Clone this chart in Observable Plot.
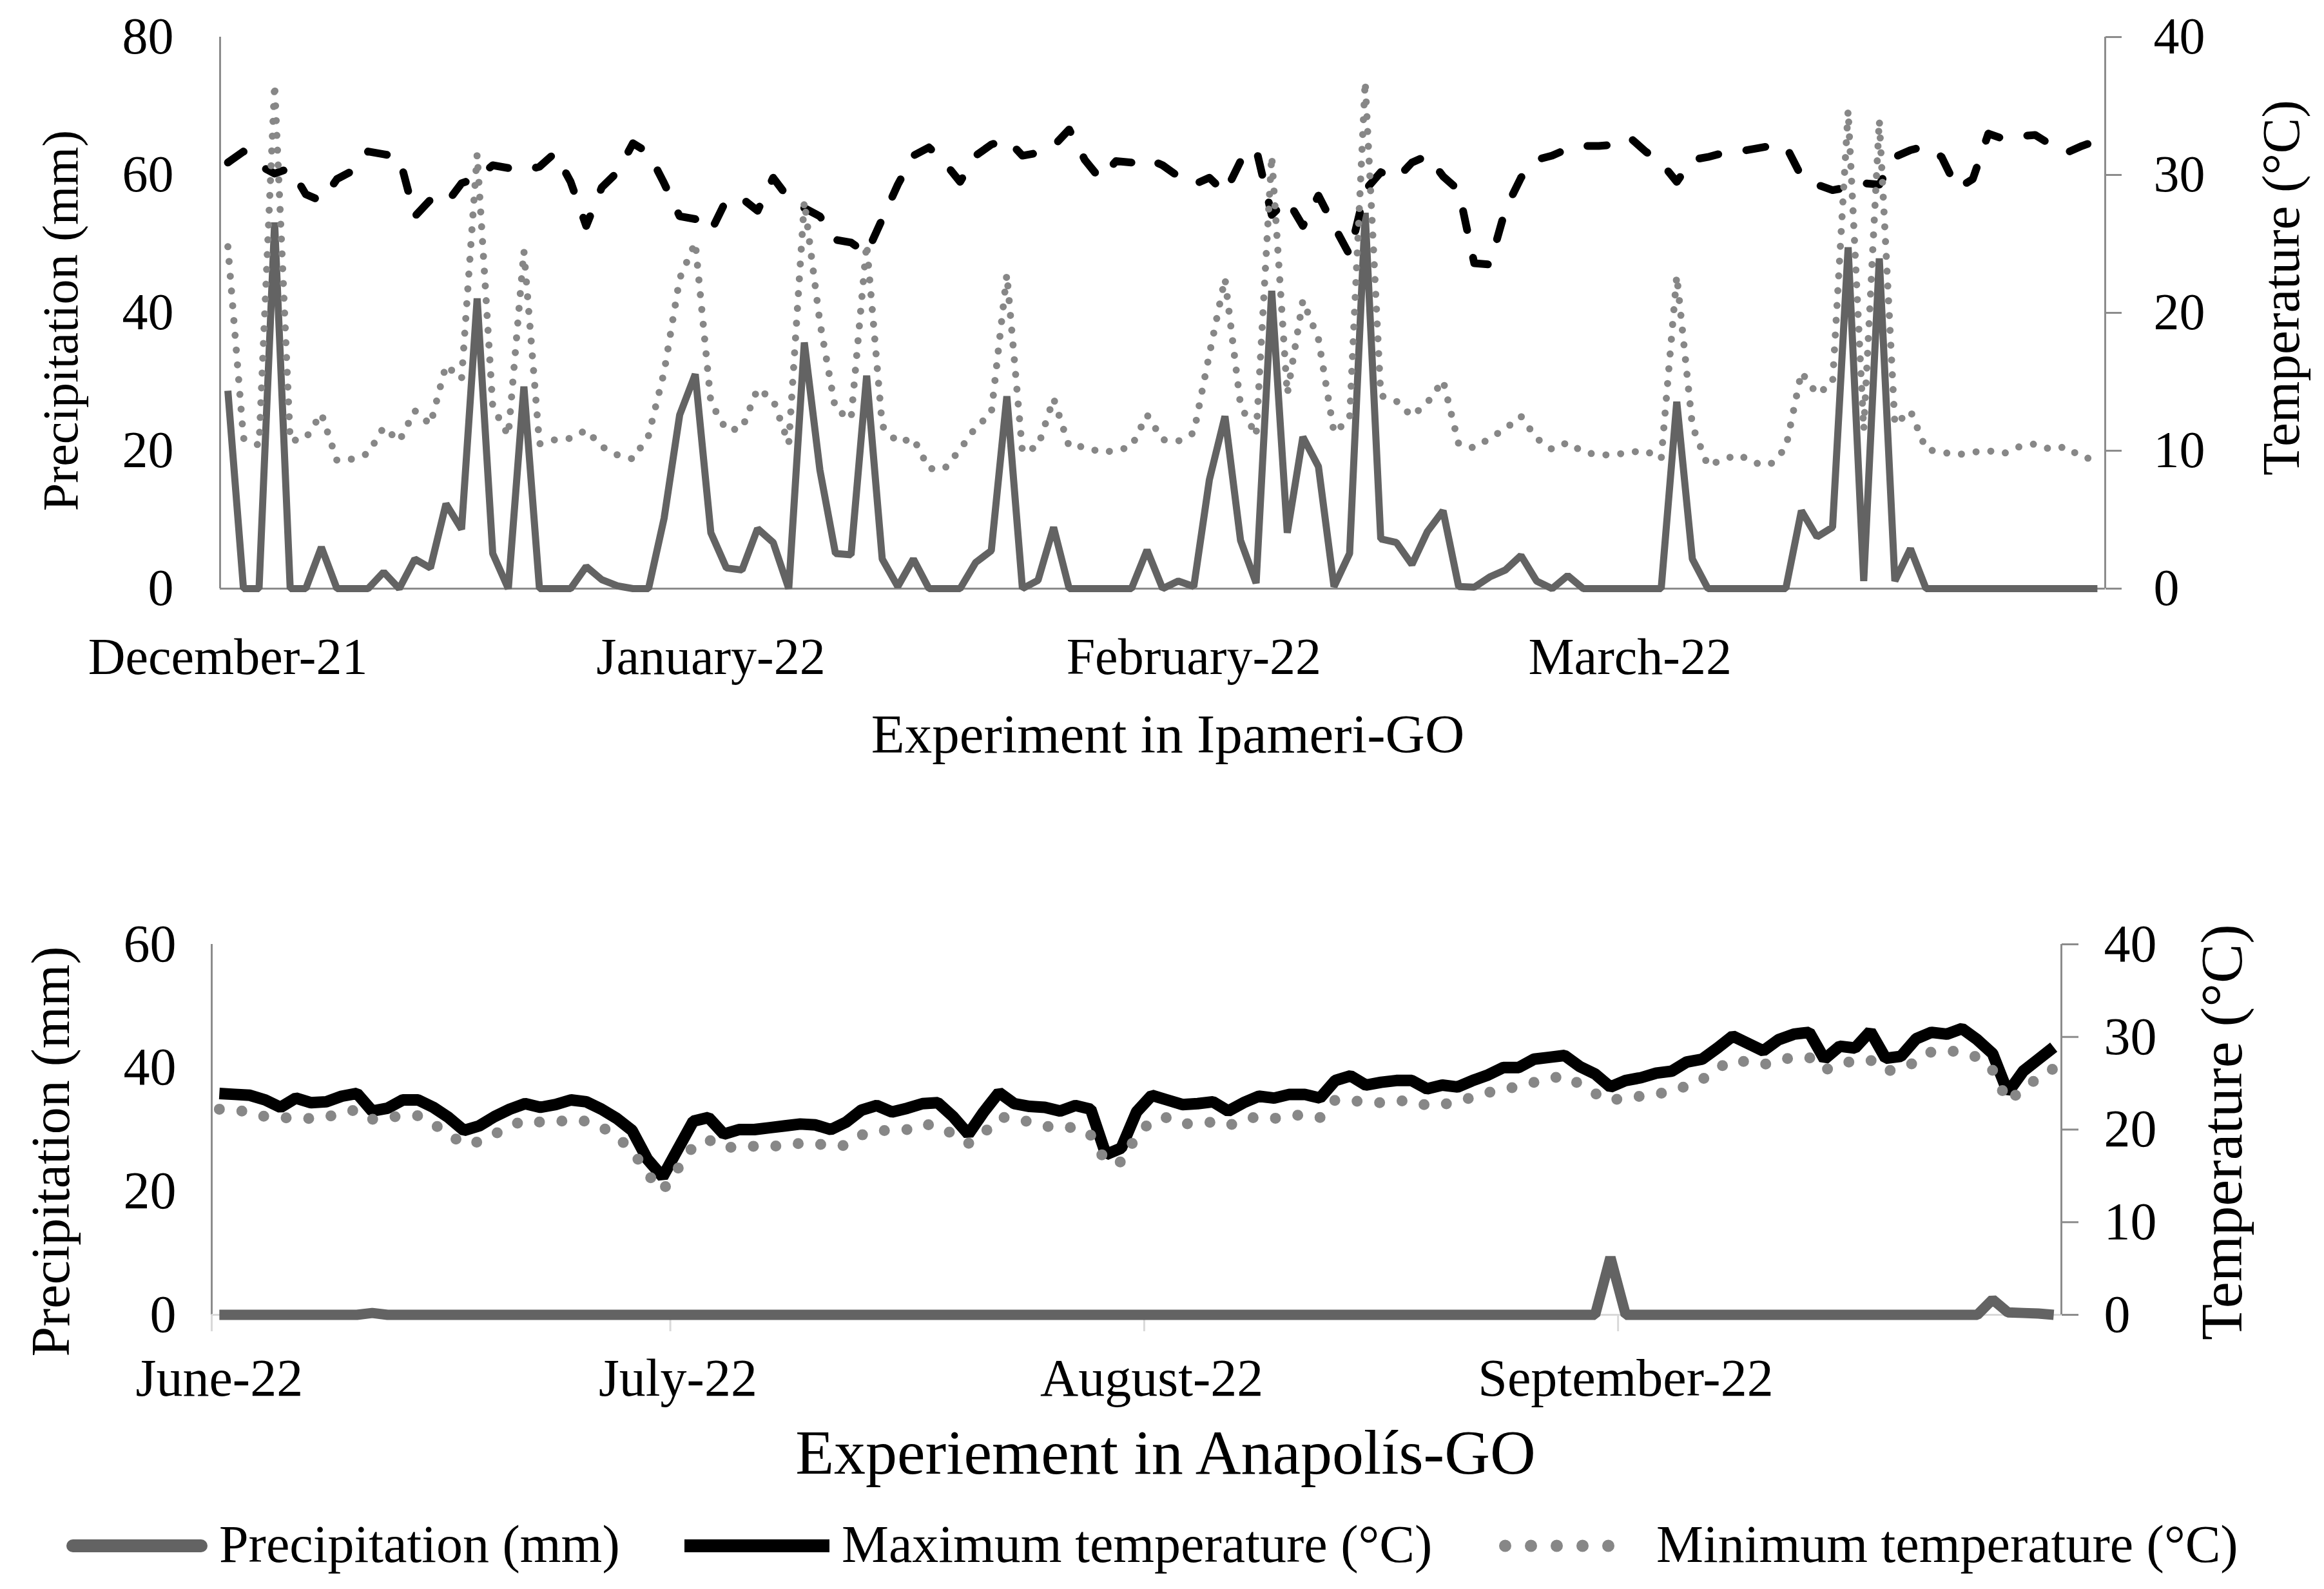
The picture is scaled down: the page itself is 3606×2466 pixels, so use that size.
<!DOCTYPE html>
<html>
<head>
<meta charset="utf-8">
<script src="https://cdn.jsdelivr.net/npm/d3@7"></script>
<script src="https://cdn.jsdelivr.net/npm/@observablehq/plot@0.6"></script>
<style>
html, body { margin: 0; padding: 0; background: #fff; overflow: hidden; }
#root { position: relative; width: 3606px; height: 2466px; font-family: "Liberation Serif", "Times New Roman", serif; color: #000; }
#root svg { position: absolute; left: 0; max-width: none; }
.leg { position: absolute; font-size: 82px; line-height: 1; white-space: nowrap; font-family: "Liberation Serif", serif; color: #000; }
</style>
</head>
<body>
<div id="root"></div>
<script>
// ---------- Data: Ipameri-GO, daily from 1 Dec 2021 to 31 Mar 2022 ----------
const topMonthLabels = ["December-21", "January-22", "February-22", "March-22"];
const topMonthIdx = [0, 31, 62, 90];
const topPrecip = [
  28.7, 0, 0, 53.1, 0, 0, 6.0, 0, 0, 0,
  2.4, 0, 4.3, 3.0, 12.3, 8.6, 42.1, 5.1, 0, 29.3,
  0, 0, 0, 3.2, 1.3, 0.4, 0, 0, 10.2, 25.2,
  31.1, 8.1, 3.0, 2.7, 8.7, 6.7, 0, 35.7, 17.2, 5.1,
  4.9, 30.9, 4.3, 0.3, 4.3, 0, 0, 0, 3.8, 5.5,
  27.9, 0, 1.2, 8.9, 0, 0, 0, 0, 0, 5.6,
  0, 1.1, 0.3, 15.8, 25.0, 7.0, 0.8, 43.2, 8.1, 22.0,
  17.7, 0.3, 5.1, 54.5, 7.2, 6.7, 3.5, 8.3, 11.3, 0.3,
  0.2, 1.7, 2.7, 4.8, 1.1, 0, 1.9, 0, 0, 0,
  0, 0, 0, 27.1, 4.3, 0, 0, 0, 0, 0,
  0, 11.3, 7.5, 8.9, 49.5, 1.1, 47.9, 1.1, 5.8, 0,
  0, 0, 0, 0, 0, 0, 0, 0, 0, 0,
  0
];
const topTmax = [
  30.9, 31.7, 30.7, 30.1, 30.5, 28.6, 28.1, 29.7, 30.3, 31.7,
  31.5, 31.3, 27.0, 28.2, 27.9, 29.4, 29.8, 30.7, 30.5, 30.3,
  30.6, 31.6, 29.5, 26.3, 29.1, 30.2, 32.3, 31.6, 29.4, 27.0,
  26.8, 25.9, 28.2, 28.3, 27.4, 29.8, 28.3, 27.6, 27.0, 25.3,
  25.1, 24.3, 26.8, 29.3, 31.4, 32.0, 30.9, 29.5, 31.4, 32.2,
  32.6, 31.4, 31.6, 32.1, 33.3, 31.1, 29.7, 31.0, 30.9, 31.2,
  30.7, 29.9, 29.3, 29.8, 28.7, 31.0, 31.9, 27.1, 28.2, 26.3,
  28.5, 26.3, 24.2, 28.9, 30.2, 29.7, 30.9, 31.4, 29.9, 28.9,
  23.6, 23.5, 27.5, 29.8, 31.1, 31.4, 31.9, 32.1, 32.1, 32.2,
  32.7, 31.7, 30.9, 29.5, 31.1, 31.3, 31.6, 31.7, 31.9, 32.1,
  32.1, 29.9, 29.3, 28.9, 29.1, 29.4, 29.3, 31.3, 31.8, 32.1,
  31.3, 29.0, 29.7, 33.0, 32.6, 32.8, 32.9, 32.2, 31.6, 32.1,
  32.5
];
const topTmin = [
  24.8, 10.9, 10.4, 36.6, 10.7, 10.9, 12.7, 9.3, 9.4, 9.8,
  11.7, 10.7, 12.9, 11.9, 16.2, 15.2, 31.5, 13.2, 11.1, 24.5,
  10.5, 10.8, 10.9, 11.5, 10.3, 9.7, 9.4, 11.1, 15.7, 22.5,
  25.1, 13.5, 11.5, 11.6, 14.5, 13.7, 10.5, 28.1, 19.3, 13.0,
  12.3, 25.0, 11.8, 10.6, 10.9, 8.7, 8.7, 10.1, 11.7, 12.7,
  22.8, 9.9, 10.3, 13.8, 10.3, 10.3, 9.9, 10.0, 10.3, 12.6,
  10.8, 10.7, 11.3, 17.0, 22.5, 13.3, 11.1, 31.4, 14.1, 20.9,
  18.1, 11.3, 12.3, 36.8, 14.0, 13.6, 12.5, 13.5, 15.1, 10.5,
  10.2, 10.9, 11.6, 12.5, 10.9, 10.1, 10.6, 9.9, 9.7, 9.7,
  9.9, 10.0, 9.4, 22.7, 11.8, 8.9, 9.4, 9.7, 9.1, 9.0,
  10.2, 15.7, 14.1, 14.9, 34.7, 11.5, 34.0, 11.9, 12.9, 10.1,
  9.9, 9.7, 9.9, 10.0, 9.8, 10.3, 10.5, 10.1, 10.3, 9.5,
  9.4
];

// ---------- Data: Anápolis-GO, daily from 1 Jun 2022 to 29 Sep 2022 ----------
const botMonthLabels = ["June-22", "July-22", "August-22", "September-22"];
const botMonthIdx = [0, 30, 61, 92];
const botMonthEdges = [-0.5, 29.5, 60.5, 91.5];
const botPrecip = [
  0, 0, 0, 0, 0, 0, 0, 0, 0, 0,
  0.3, 0, 0, 0, 0, 0, 0, 0, 0, 0,
  0, 0, 0, 0, 0, 0, 0, 0, 0, 0,
  0, 0, 0, 0, 0, 0, 0, 0, 0, 0,
  0, 0, 0, 0, 0, 0, 0, 0, 0, 0,
  0, 0, 0, 0, 0, 0, 0, 0, 0, 0,
  0, 0, 0, 0, 0, 0, 0, 0, 0, 0,
  0, 0, 0, 0, 0, 0, 0, 0, 0, 0,
  0, 0, 0, 0, 0, 0, 0, 0, 0, 0,
  0, 9.3, 0, 0, 0, 0, 0, 0, 0, 0,
  0, 0, 0, 0, 0, 0, 0, 0, 0, 0,
  0, 0, 0, 0, 0, 0, 2.5, 0.4, 0.3, 0.2,
  0
];
const botTmax = [
  23.9, 23.8, 23.7, 23.2, 22.4, 23.4, 22.9, 23.0, 23.6, 23.9,
  22.0, 22.3, 23.2, 23.2, 22.4, 21.3, 19.9, 20.4, 21.4, 22.2,
  22.8, 22.4, 22.7, 23.2, 23.0, 22.2, 21.2, 19.9, 16.8, 14.9,
  17.9, 20.9, 21.3, 19.5, 20.0, 20.0, 20.2, 20.4, 20.6, 20.5,
  20.0, 20.8, 22.1, 22.6, 21.9, 22.3, 22.8, 22.9, 21.4, 19.5,
  21.9, 24.0, 22.8, 22.5, 22.4, 22.0, 22.6, 22.2, 17.3, 18.0,
  21.9, 23.7, 23.2, 22.7, 22.8, 23.0, 22.0, 22.9, 23.6, 23.4,
  23.8, 23.8, 23.4, 25.3, 25.8, 24.8, 25.1, 25.3, 25.3, 24.4,
  24.8, 24.6, 25.3, 25.9, 26.7, 26.7, 27.6, 27.8, 28.0, 26.8,
  26.0, 24.6, 25.3, 25.6, 26.1, 26.3, 27.3, 27.6, 28.8, 30.1,
  29.3, 28.5, 29.7, 30.3, 30.5, 27.6, 29.0, 28.8, 30.6, 27.7,
  27.9, 29.8, 30.5, 30.3, 30.9, 29.7, 28.2, 24.0, 26.3, 27.6,
  28.9
];
const botTmin = [
  22.2, 22.1, 21.9, 21.4, 21.3, 21.2, 21.2, 21.3, 21.9, 22.1,
  21.1, 21.3, 21.5, 21.5, 20.6, 19.5, 18.4, 18.7, 19.5, 20.4,
  21.0, 20.8, 20.8, 21.1, 20.9, 20.3, 19.2, 17.8, 15.2, 13.4,
  15.8, 18.2, 18.9, 18.0, 18.2, 18.2, 18.1, 18.4, 18.5, 18.5,
  18.2, 18.3, 19.4, 19.9, 19.9, 20.0, 20.6, 20.4, 19.5, 18.5,
  19.6, 21.3, 21.3, 20.8, 20.4, 20.1, 20.3, 19.4, 16.5, 16.5,
  19.3, 21.0, 21.3, 20.6, 20.7, 20.8, 20.4, 21.1, 21.4, 21.2,
  21.5, 21.6, 21.3, 23.2, 23.1, 23.0, 22.9, 23.1, 23.1, 22.6,
  22.7, 23.0, 23.5, 24.0, 24.3, 24.7, 25.1, 25.5, 25.8, 24.9,
  23.9, 23.1, 23.5, 23.6, 23.8, 24.2, 24.7, 25.4, 26.6, 27.5,
  27.3, 27.0, 27.5, 27.8, 27.8, 26.4, 27.1, 27.4, 27.5, 26.3,
  26.6, 27.3, 28.4, 28.5, 28.4, 27.8, 26.4, 23.0, 24.4, 25.6,
  26.6
];

const precipTicksTop = [0, 20, 40, 60, 80];
const precipTicksBot = [0, 20, 40, 60];
const tempTicks = [0, 10, 20, 30, 40];

// ---------- Styles ----------
const FONT = "Liberation Serif";
const AXIS = "#8c8c8c";
const PCOL = "#636363";
const TMIN_COL = "#878787";
const W = 3606;
const root = document.getElementById("root");

function place(svg, top) {
  svg.style.top = top + "px";
  root.appendChild(svg);
}
function baseStyle() {
  return {fontFamily: FONT, fontSize: "80px", color: "#000", background: "transparent", overflow: "visible", maxWidth: "none"};
}

// ---------- Top chart (Ipameri) ----------
const topData = topPrecip.map((p, i) => ({i, p, tmax: topTmax[i], tmin: topTmin[i]}));
const topLabel = new Map(topMonthIdx.map((d, k) => [d, topMonthLabels[k]]));
const topDims = {width: W, height: 1200, marginLeft: 341, marginRight: 340, marginTop: 57, marginBottom: 287};
const topX = {domain: [-0.5, topPrecip.length - 0.5], axis: null};

const topP = Plot.plot({
  ...topDims,
  style: baseStyle(),
  x: topX,
  y: {domain: [0, 80], axis: null},
  marks: [
    Plot.ruleX([-0.5], {stroke: AXIS, strokeWidth: 3}),
    Plot.ruleY([0], {stroke: AXIS, strokeWidth: 3}),
    Plot.axisY({anchor: "left", ticks: precipTicksTop, tickSize: 0, tickPadding: 72, fontSize: 80, label: null}),
    Plot.axisX({ticks: topMonthIdx, tickFormat: d => topLabel.get(d), tickSize: 0, tickPadding: 76, fontSize: 80, label: null}),
    Plot.line(topData, {x: "i", y: "p", stroke: PCOL, strokeWidth: 11, strokeLinejoin: "miter", strokeLinecap: "butt"}),
    Plot.text(["Precipitation (mm)"], {text: d => d, frameAnchor: "left", dx: 95 - 341, dy: 12, rotate: -90, textAnchor: "middle", lineAnchor: "middle", fontSize: 78}),
    Plot.text(["Experiment in Ipameri-GO"], {text: d => d, frameAnchor: "bottom", dx: 8, dy: 227, textAnchor: "middle", lineAnchor: "middle", fontSize: 85})
  ]
});
place(topP, 0);

const topT = Plot.plot({
  ...topDims,
  style: baseStyle(),
  x: topX,
  y: {domain: [0, 40], axis: null},
  marks: [
    Plot.ruleX([topPrecip.length - 0.5], {stroke: AXIS, strokeWidth: 3}),
    Plot.axisY({anchor: "right", ticks: tempTicks, tickSize: 25, tickPadding: 50, stroke: AXIS, strokeWidth: 3, fontSize: 80, label: null}),
    Plot.line(topData, {x: "i", y: "tmax", stroke: "#000", strokeWidth: 12, strokeDasharray: "30 44", strokeLinecap: "round"}),
    Plot.line(topData, {x: "i", y: "tmin", stroke: TMIN_COL, strokeWidth: 11, strokeDasharray: "0 23", strokeLinecap: "round"}),
    Plot.text(["Temperature (°C)"], {text: d => d, frameAnchor: "right", dx: 3540 - 3266, dy: -39, rotate: -90, textAnchor: "middle", lineAnchor: "middle", fontSize: 83})
  ]
});
place(topT, 0);

// ---------- Bottom chart (Anápolis) ----------
const botData = botPrecip.map((p, i) => ({i, p, tmax: botTmax[i], tmin: botTmin[i]}));
const botLabel = new Map(botMonthIdx.map((d, k) => [d, botMonthLabels[k]]));
const botTop = 1300;
const botDims = {width: W, height: 1000, marginLeft: 328, marginRight: 408, marginTop: 165, marginBottom: 260};
const botX = {domain: [-0.5, botPrecip.length - 0.5], axis: null};

const botP = Plot.plot({
  ...botDims,
  style: baseStyle(),
  x: botX,
  y: {domain: [0, 60], axis: null},
  marks: [
    Plot.ruleX([-0.5], {stroke: AXIS, strokeWidth: 3}),
    Plot.ruleY([0], {stroke: "#d9d9d9", strokeWidth: 3}),
    Plot.axisX({ticks: botMonthEdges, tickFormat: () => "", tickSize: 26, stroke: "#d9d9d9", strokeWidth: 3, label: null}),
    Plot.axisY({anchor: "left", ticks: precipTicksBot, tickSize: 0, tickPadding: 55, fontSize: 82, label: null}),
    Plot.axisX({ticks: botMonthIdx, tickFormat: d => botLabel.get(d), tickSize: 0, tickPadding: 67, fontSize: 82, label: null}),
    Plot.line(botData, {x: "i", y: "p", stroke: PCOL, strokeWidth: 16, strokeLinejoin: "miter", strokeLinecap: "butt"}),
    Plot.text(["Precipitation (mm)"], {text: d => d, frameAnchor: "left", dx: 80 - 328, dy: 34, rotate: -90, textAnchor: "middle", lineAnchor: "middle", fontSize: 84}),
    Plot.text(["Experiement in Anapolís-GO"], {text: d => d, frameAnchor: "bottom", dx: 45, dy: 215, textAnchor: "middle", lineAnchor: "middle", fontSize: 98})
  ]
});
place(botP, botTop);

const botT = Plot.plot({
  ...botDims,
  style: baseStyle(),
  x: botX,
  y: {domain: [0, 40], axis: null},
  marks: [
    Plot.ruleX([botPrecip.length - 0.5], {stroke: AXIS, strokeWidth: 3}),
    Plot.axisY({anchor: "right", ticks: tempTicks, tickSize: 26, tickPadding: 40, stroke: AXIS, strokeWidth: 3, fontSize: 82, label: null}),
    Plot.line(botData, {x: "i", y: "tmax", stroke: "#000", strokeWidth: 18, strokeLinejoin: "miter", strokeLinecap: "butt"}),
    Plot.line(botData, {x: "i", y: "tmin", stroke: TMIN_COL, strokeWidth: 17, strokeDasharray: "0 35", strokeLinecap: "round"}),
    Plot.text(["Temperature (°C)"], {text: d => d, frameAnchor: "right", dx: 3448 - 3198, dy: 4, rotate: -90, textAnchor: "middle", lineAnchor: "middle", fontSize: 92})
  ]
});
place(botT, botTop);

// ---------- Legend (HTML below the charts) ----------
const legendItems = [
  {label: "Precipitation (mm)", x0: 103, x1: 322, tx: 340, stroke: PCOL, width: 20, dash: null, cap: "round"},
  {label: "Maximum temperature (°C)", x0: 1062, x1: 1287, tx: 1306, stroke: "#000", width: 20, dash: null, cap: "butt"},
  {label: "Minimum temperature (°C)", x0: 2326, x1: 2529, tx: 2570, stroke: TMIN_COL, width: 19, dash: "0 40", cap: "round"}
];
const legY = 2399;
const NS = "http://www.w3.org/2000/svg";
for (const it of legendItems) {
  const s = document.createElementNS(NS, "svg");
  s.setAttribute("width", it.x1 - it.x0 + 20);
  s.setAttribute("height", 40);
  s.style.position = "absolute";
  s.style.left = (it.x0 - 10) + "px";
  s.style.top = (legY - 20) + "px";
  const ln = document.createElementNS(NS, "line");
  const pad = it.cap === "round" ? it.width / 2 + 10 : 10;
  ln.setAttribute("x1", pad);
  ln.setAttribute("x2", it.x1 - it.x0 + 20 - pad);
  ln.setAttribute("y1", 20);
  ln.setAttribute("y2", 20);
  ln.setAttribute("stroke", it.stroke);
  ln.setAttribute("stroke-width", it.width);
  ln.setAttribute("stroke-linecap", it.cap);
  if (it.dash) ln.setAttribute("stroke-dasharray", it.dash);
  s.appendChild(ln);
  root.appendChild(s);
  const t = document.createElement("div");
  t.className = "leg";
  t.textContent = it.label;
  t.style.left = it.tx + "px";
  t.style.top = (2425 - 69) + "px";
  root.appendChild(t);
}
</script>
</body>
</html>
